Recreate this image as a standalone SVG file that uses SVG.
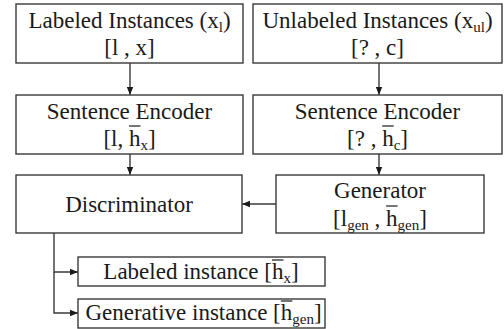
<svg xmlns="http://www.w3.org/2000/svg" width="504" height="329" viewBox="0 0 504 329">
<defs>
<style>
.box{fill:#fff;stroke:#3a3a3a;stroke-width:1.4}
text{font-family:'Liberation Serif','Times New Roman',serif;font-size:23px;fill:#1a1a1a;text-anchor:middle}
.s{font-size:15px}
.c{fill:none;stroke:#3a3a3a;stroke-width:1.4}
.ob{stroke:#1a1a1a;stroke-width:1.2}
</style>
<marker id="ah" viewBox="0 0 8 8" refX="8" refY="4" markerWidth="8" markerHeight="8" markerUnits="userSpaceOnUse" orient="auto">
<path d="M0,0.8 L8,4 L0,7.2 Z" fill="#1a1a1a"/>
</marker>
</defs>
<rect width="504" height="329" fill="#fff"/>
<g id="connectors">
<line class="c" x1="130" y1="63" x2="130" y2="95" marker-end="url(#ah)"/>
<line class="c" x1="379" y1="63" x2="379" y2="95" marker-end="url(#ah)"/>
<line class="c" x1="130" y1="154" x2="130" y2="175" marker-end="url(#ah)"/>
<line class="c" x1="379" y1="154" x2="379" y2="175" marker-end="url(#ah)"/>
<line class="c" x1="276" y1="204" x2="242" y2="204" marker-end="url(#ah)"/>
<polyline class="c" points="54,233 54,272 78,272" marker-end="url(#ah)"/>
<polyline class="c" points="54,272 54,313 78,313" marker-end="url(#ah)"/>
</g>
<g id="labeled">
<rect class="box" x="16" y="4" width="227" height="59"/>
<text x="129.5" y="28">Labeled Instances (x<tspan class="s" dy="4">l</tspan><tspan dy="-4">)</tspan></text>
<text x="129.5" y="55">[l , x]</text>
</g>
<g id="unlabeled">
<rect class="box" x="253" y="4" width="249" height="59"/>
<text x="377.5" y="28">Unlabeled Instances (x<tspan class="s" dy="4">ul</tspan><tspan dy="-4">)</tspan></text>
<text x="377.5" y="55">[? , c]</text>
</g>
<g id="encoder-left">
<rect class="box" x="16" y="95" width="227" height="59"/>
<text x="129.5" y="119">Sentence Encoder</text>
<text x="129.5" y="146">[l, h<tspan class="s" dy="4">x</tspan><tspan dy="-4">]</tspan></text>
<line class="ob" x1="129" y1="126" x2="140.5" y2="126"/>
</g>
<g id="encoder-right">
<rect class="box" x="253" y="95" width="249" height="59"/>
<text x="377.5" y="119">Sentence Encoder</text>
<text x="377.5" y="146">[? , h<tspan class="s" dy="4">c</tspan><tspan dy="-4">]</tspan></text>
<line class="ob" x1="382.2" y1="126" x2="393.7" y2="126"/>
</g>
<g id="discriminator">
<rect class="box" x="16" y="175" width="226" height="58"/>
<text x="129" y="212">Discriminator</text>
</g>
<g id="generator">
<rect class="box" x="276" y="175" width="208" height="58"/>
<text x="380" y="198">Generator</text>
<text x="380" y="226">[l<tspan class="s" dy="4">gen</tspan><tspan dy="-4"> , h</tspan><tspan class="s" dy="4">gen</tspan><tspan dy="-4">]</tspan></text>
<line class="ob" x1="386.1" y1="206" x2="397.6" y2="206"/>
</g>
<g id="out-labeled">
<rect class="box" x="78" y="257" width="247" height="29"/>
<text x="201" y="279">Labeled instance [h<tspan class="s" dy="4">x</tspan><tspan dy="-4">]</tspan></text>
<line class="ob" x1="272" y1="260" x2="283.5" y2="260"/>
</g>
<g id="out-generative">
<rect class="box" x="78" y="299" width="247" height="29"/>
<text x="203.5" y="320">Generative instance [h<tspan class="s" dy="4">gen</tspan><tspan dy="-4">]</tspan></text>
<line class="ob" x1="280.8" y1="301" x2="292.3" y2="301"/>
</g>
</svg>
